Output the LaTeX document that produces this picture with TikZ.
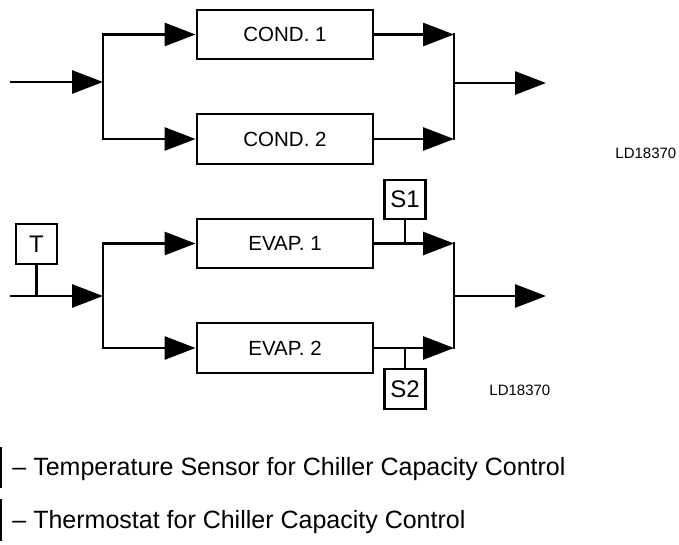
\documentclass[tikz,border=0pt]{standalone}
\usepackage{fontspec}
\setmainfont{Liberation Sans}
\usetikzlibrary{arrows.meta}
\begin{document}
\begin{tikzpicture}[x=1pt,y=-1pt,
  line width=2.9pt,
  unit/.style={draw, line width=2.9pt, minimum width=176pt, minimum height=49pt, inner sep=0pt, font=\fontsize{20.5}{24}\selectfont},
  sensor/.style={draw, line width=2.4pt, minimum width=41pt, minimum height=40pt, inner sep=0pt, font=\fontsize{24}{28}\selectfont},
  flow/.style={-{Triangle[length=31pt,width=23pt]}},
  tag/.style={font=\fontsize{15}{18}\selectfont, anchor=base west, inner sep=0pt},
  legend/.style={font=\fontsize{25}{30}\selectfont, anchor=base west, inner sep=0pt}]
\useasboundingbox (0,0) rectangle (679,545);

% condensers
\node[unit] (c1) at (285,34.5) {COND. 1};
\node[unit, minimum height=50pt] (c2) at (285,139) {COND. 2};
\coordinate (inA) at (10,82);
\coordinate (sA) at (103,82);
\coordinate (mA) at (454,83);
\coordinate (outA) at (546,83);
\draw[flow] (inA) -- (sA);
\draw[flow] (sA) |- (c1.west);
\draw[flow] (sA) |- (c2.west);
\draw[flow] (c1.east) -- (c1.east -| mA);
\draw[flow] (c2.east) -- (c2.east -| mA);
\draw[line cap=rect] (c1.east -| mA) -- (c2.east -| mA);
\draw[flow] (mA) -- (outA);
\node[tag] (ld1) at (614,159) {LD18370};

% evaporators
\node[unit] (e1) at (285,243.5) {EVAP. 1};
\node[unit, minimum height=50pt] (e2) at (285,348) {EVAP. 2};
\node[sensor] (T) at (36.5,244) {T};
\node[sensor, minimum height=39pt] (S1) at (405,199.5) {S1};
\node[sensor] (S2) at (405,389) {S2};
\coordinate (inB) at (10,296);
\coordinate (sB) at (103,296);
\coordinate (mB) at (454,296);
\coordinate (outB) at (546,296);
\draw (T.south) -- (T.south |- inB);
\draw[flow] (inB) -- (sB);
\draw[flow] (sB) |- (e1.west);
\draw[flow] (sB) |- (e2.west);
\draw[flow] (e1.east) -- (e1.east -| mB);
\draw[flow] (e2.east) -- (e2.east -| mB);
\draw[line cap=rect] (e1.east -| mB) -- (e2.east -| mB);
\draw[flow] (mB) -- (outB);
\draw (S1.south) -- (S1.south |- e1.east);
\draw (S2.north) -- (S2.north |- e2.east);
\node[tag] (ld2) at (488,395) {LD18370};

% legend
\node[sensor, anchor=east, minimum height=39pt] (L1) at (2,467.5) {};
\node[sensor, anchor=east] (L2) at (2,520) {};
\node[legend] (t1) at (11,475) {– Temperature Sensor for Chiller Capacity Control};
\node[legend] (t2) at (11,528) {– Thermostat for Chiller Capacity Control};
\end{tikzpicture}
\end{document}
